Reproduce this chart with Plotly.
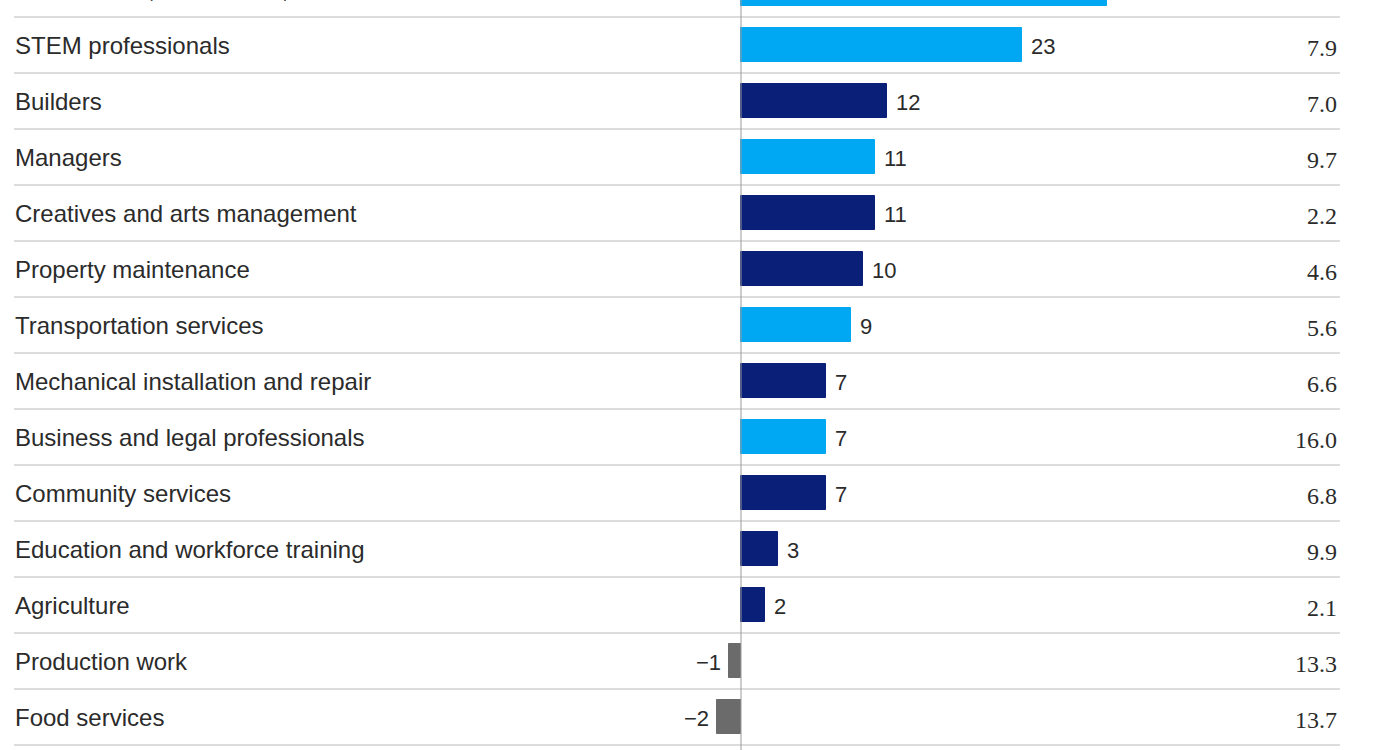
import plotly.graph_objects as go

categories = [
    "Health aides, technicians, and wellness",
    "STEM professionals",
    "Builders",
    "Managers",
    "Creatives and arts management",
    "Property maintenance",
    "Transportation services",
    "Mechanical installation and repair",
    "Business and legal professionals",
    "Community services",
    "Education and workforce training",
    "Agriculture",
    "Production work",
    "Food services",
]
growth = [30, 23, 12, 11, 11, 10, 9, 7, 7, 7, 3, 2, -1, -2]
right_values = [None, "7.9", "7.0", "9.7", "2.2", "4.6", "5.6", "6.6", "16.0", "6.8", "9.9", "2.1", "13.3", "13.7"]
groups = ["light", "light", "dark", "light", "dark", "dark", "light", "dark",
          "light", "dark", "dark", "dark", "neg", "neg"]

color_map = {"light": "#00A8F3", "dark": "#0A1F78", "neg": "#6B6B6B"}
colors = [color_map[g] for g in groups]

rows = list(range(len(categories)))

# axis ranges
Y_RANGE = [13.589, 0.1964]       # reversed: first row at top
px_per_unit = 12.2
zero_px = 741
X_RANGE = [-zero_px / px_per_unit, (1400 - zero_px) / px_per_unit]


def yref_for(i):
    """Use data coords when in range, else map onto paper coords via the axis range."""
    lo, hi = min(Y_RANGE), max(Y_RANGE)
    if lo <= i <= hi:
        return dict(y=i, yref="y")
    frac = (Y_RANGE[0] - i) / (Y_RANGE[0] - Y_RANGE[1])
    return dict(y=frac, yref="paper")


def xref_for(v):
    if X_RANGE[0] <= v <= X_RANGE[1]:
        return dict(x=v, xref="x")
    return dict(x=(v - X_RANGE[0]) / (X_RANGE[1] - X_RANGE[0]), xref="paper")


fig = go.Figure()
fig.add_trace(go.Bar(
    x=growth,
    y=rows,
    orientation="h",
    width=0.607,
    marker=dict(color=colors, line=dict(color=colors, width=1)),
    hoverinfo="skip",
    showlegend=False,
))

annotations = []
shapes = []
label_font = dict(family="Liberation Sans, Arial, sans-serif", size=24, color="#2b2b2b")
val_font = dict(family="Liberation Sans, Arial, sans-serif", size=22, color="#2b2b2b")
right_font = dict(family="Liberation Serif, Times New Roman, serif", size=24, color="#2b2b2b")

for i, (cat, v, rv) in enumerate(zip(categories, growth, right_values)):
    yy = yref_for(i)
    annotations.append(dict(
        x=13 / 1400, xref="paper", text=cat, showarrow=False,
        xanchor="left", yanchor="middle", font=label_font, yshift=0, **yy,
    ))
    txt = str(v).replace("-", "\u2212")
    if v >= 0:
        annotations.append(dict(
            text=txt, showarrow=False, xanchor="left", yanchor="middle",
            xshift=7, yshift=-1, font=val_font, **xref_for(v), **yy,
        ))
    else:
        annotations.append(dict(
            text=txt, showarrow=False, xanchor="right", yanchor="middle",
            xshift=-6, yshift=-1, font=val_font, **xref_for(v), **yy,
        ))
    if rv is not None:
        annotations.append(dict(
            x=1339 / 1400, xref="paper", text=rv, showarrow=False,
            xanchor="right", yanchor="middle", yshift=-3, font=right_font, **yy,
        ))
    shapes.append(dict(
        type="line", xref="paper", yref="y", x0=14 / 1400, x1=1340 / 1400,
        y0=i + 0.5, y1=i + 0.5, line=dict(color="#DCDCDC", width=2), layer="below",
    ))

shapes.append(dict(
    type="line", xref="x", yref="paper", x0=0, x1=0, y0=0, y1=1,
    line=dict(color="#9A9A9A", width=1), layer="above",
))

fig.update_layout(
    width=1400, height=750,
    margin=dict(l=0, r=0, t=0, b=0),
    paper_bgcolor="white", plot_bgcolor="white",
    xaxis=dict(visible=False, range=X_RANGE),
    yaxis=dict(visible=False, range=Y_RANGE),
    annotations=annotations,
    shapes=shapes,
    bargap=0,
)

fig.write_html("out.html")
